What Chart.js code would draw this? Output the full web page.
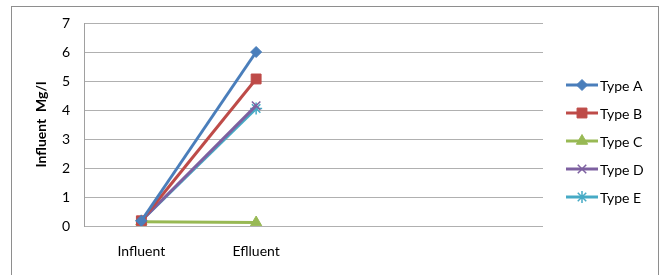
<!DOCTYPE html>
<html>
<head>
<meta charset="utf-8">
<script src="https://cdn.jsdelivr.net/npm/chart.js@4"></script>
<style>
  body { margin: 0; background: #fff; }
  #wrap { position: relative; width: 662px; height: 275px; overflow: hidden; }
  #frame { position: absolute; left: 11px; top: 6px; width: 646px; height: 300px; border: 1px solid #8e8e8e; }
  #chart { position: absolute; left: 0; top: 0; }
</style>
</head>
<body>
<div id="wrap">
  <div id="frame"></div>
  <canvas id="chart" width="662" height="275"></canvas>
</div>
<script>
// categories (last two are empty slots on the axis)
const categories = ['Influent', 'Eflluent', '', ''];

// series values
const typeA = [0.18, 6.0, null, null];
const typeB = [0.18, 5.07, null, null];
const typeC = [0.15, 0.12, null, null];
const typeD = [0.18, 4.15, null, null];
const typeE = [0.18, 4.05, null, null];

const seriesNames = ['Type A', 'Type B', 'Type C', 'Type D', 'Type E'];
const yTicks = [0, 1, 2, 3, 4, 5, 6, 7];

const FONT = 'Lato, Carlito, "Liberation Sans", sans-serif';

const styles = [
  { color: '#4a7ebb', pointStyle: 'rectRot', radius: 5.5, bw: 1 },
  { color: '#be4b48', pointStyle: 'rect', radius: 7, bw: 1 },
  { color: '#98b954', pointStyle: 'triangle', radius: 6.5, bw: 1 },
  { color: '#7d60a0', pointStyle: 'crossRot', radius: 6, bw: 1.5 },
  { color: '#46aac5', pointStyle: 'star', radius: 6, bw: 1.5 }
];

const values = [typeA, typeB, typeC, typeD, typeE];

const datasets = values.map((v, i) => ({
  label: seriesNames[i],
  data: v,
  borderColor: styles[i].color,
  backgroundColor: styles[i].color,
  borderWidth: 3,
  pointStyle: styles[i].pointStyle,
  pointRadius: styles[i].radius,
  pointHoverRadius: styles[i].radius,
  pointBorderWidth: styles[i].bw,
  pointBorderColor: styles[i].color,
  pointBackgroundColor: styles[i].color,
  tension: 0,
  spanGaps: false
}));

// legend on the right, line with marker like the office style
const sideLegend = {
  id: 'sideLegend',
  afterDraw(chart) {
    const ctx = chart.ctx;
    const x0 = 566, x1 = 598, top = 85, step = 28;
    ctx.save();
    chart.data.datasets.forEach((ds, i) => {
      const y = top + i * step;
      ctx.strokeStyle = ds.borderColor;
      ctx.lineWidth = 3;
      ctx.beginPath();
      ctx.moveTo(x0, y);
      ctx.lineTo(x1, y);
      ctx.stroke();
      ctx.fillStyle = ds.pointBackgroundColor;
      ctx.strokeStyle = ds.pointBorderColor;
      ctx.lineWidth = ds.pointBorderWidth;
      Chart.helpers.drawPoint(ctx, {
        pointStyle: ds.pointStyle,
        radius: ds.pointRadius,
        rotation: 0,
        borderWidth: ds.pointBorderWidth
      }, (x0 + x1) / 2, y);
      ctx.fillStyle = '#000';
      ctx.font = '14px ' + FONT;
      ctx.textBaseline = 'middle';
      ctx.textAlign = 'left';
      ctx.fillText(ds.label, x1 + 2, y + 1);
    });
    ctx.restore();
  }
};

new Chart(document.getElementById('chart'), {
  type: 'line',
  data: { labels: categories, datasets: datasets },
  plugins: [sideLegend],
  options: {
    responsive: false,
    animation: false,
    layout: { padding: { left: 0, top: 23, right: 119, bottom: 0 } },
    plugins: {
      legend: { display: false },
      tooltip: { enabled: false }
    },
    scales: {
      x: {
        offset: true,
        grid: { display: false, drawTicks: false },
        border: { display: false },
        ticks: { color: '#000', font: { family: FONT, size: 14 }, padding: 17, autoSkip: false, maxRotation: 0 },
        afterFit(scale) { scale.height = 49; }
      },
      y: {
        min: 0,
        max: 7,
        afterBuildTicks(scale) { scale.ticks = yTicks.map(v => ({ value: v })); },
        grid: { color: '#b0b0b0', lineWidth: 1, drawTicks: false },
        border: { display: true, color: '#a0a0a0', width: 1 },
        ticks: { color: '#000', font: { family: FONT, size: 14 }, padding: 14 },
        title: {
          display: true,
          text: 'Influent  Mg/l',
          color: '#000',
          font: { family: FONT, size: 14, weight: 'bold' },
          padding: { top: 33, bottom: 0 }
        },
        afterFit(scale) { scale.width = 84; }
      }
    }
  }
});
</script>
</body>
</html>
